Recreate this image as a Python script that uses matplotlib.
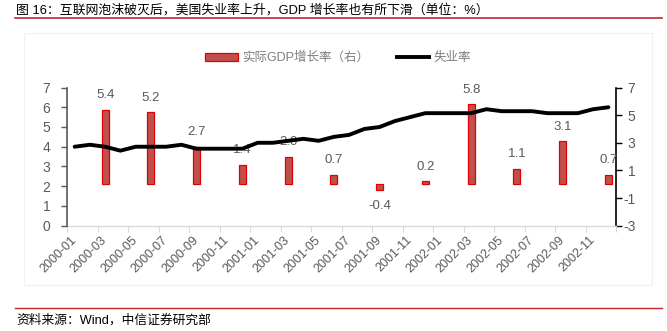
import matplotlib
matplotlib.use("Agg")
import matplotlib.pyplot as plt
import numpy as np
from matplotlib.patches import Rectangle, Patch
from matplotlib.lines import Line2D

plt.rcParams['font.family'] = ['Liberation Sans', 'Noto Sans CJK SC', 'DejaVu Sans']
plt.rcParams['axes.unicode_minus'] = False

# 月份（2000-01 ~ 2002-12）
months = [f'{y}-{m:02d}' for y in (2000, 2001, 2002) for m in range(1, 13)]

# 美国失业率（%，左轴）
unemployment = [4.0, 4.1, 4.0, 3.8, 4.0, 4.0, 4.0, 4.1, 3.9, 3.9, 3.9, 3.9,
                4.2, 4.2, 4.3, 4.4, 4.3, 4.5, 4.6, 4.9, 5.0, 5.3, 5.5, 5.7,
                5.7, 5.7, 5.7, 5.9, 5.8, 5.8, 5.8, 5.7, 5.7, 5.7, 5.9, 6.0]

# 实际GDP增长率（%，右轴，季度）
gdp_months = ['2000-03', '2000-06', '2000-09', '2000-12',
              '2001-03', '2001-06', '2001-09', '2001-12',
              '2002-03', '2002-06', '2002-09', '2002-12']
gdp_growth = [5.4, 5.2, 2.7, 1.4, 2.0, 0.7, -0.4, 0.2, 5.8, 1.1, 3.1, 0.7]

tick_labels = months[::2]

W, H = 667, 331
fig = plt.figure(figsize=(W / 100, H / 100), dpi=100)

# 浅灰色图框
fig.patches.append(Rectangle((24 / W, 1 - 285 / H), (652 - 24) / W, (285 - 33) / H,
                             transform=fig.transFigure, fill=False,
                             edgecolor='#f0f0f0', linewidth=0.8))

# 标题与来源
fig.text(16 / W, 1 - 10 / H, '图 16：互联网泡沫破灭后，美国失业率上升，GDP 增长率也有所下滑（单位：%）',
         fontsize=9.3, va='center', ha='left', color='#000000')
fig.add_artist(Line2D([15 / W, 662 / W], [1 - 17.5 / H] * 2, transform=fig.transFigure,
                      color='#c0282d', linewidth=1.2))
fig.add_artist(Line2D([15 / W, 662 / W], [1 - 307.5 / H] * 2, transform=fig.transFigure,
                      color='#c0282d', linewidth=1.0))
fig.text(16 / W, 1 - 320 / H, '资料来源：Wind，中信证券研究部',
         fontsize=9.2, va='center', ha='left', color='#000000')

left, right, top, bottom = 67, 616, 87.5, 225.7
ax = fig.add_axes([left / W, 1 - bottom / H, (right - left) / W, (bottom - top) / H])
ax2 = ax.twinx()

x = np.arange(len(months))
gx = [months.index(m) for m in gdp_months]

# 柱状图（右轴）
ax.bar(gx, gdp_growth, width=0.46, color='#c0504d', edgecolor='#e00000', linewidth=0.9, zorder=2)
for xi, v in zip(gx, gdp_growth):
    off = 10.5 if v >= 0 else -11.5
    ax.annotate(f'{v:.1f}', (xi, v), xytext=(0, off), textcoords='offset points',
                ha='center', va='center', fontsize=9.5, color='#595959', zorder=3)

# 折线（左轴）
ax2.plot(x, unemployment, color='black', linewidth=2.8, solid_capstyle='round', zorder=4)

ax.set_xlim(-0.5, len(months) - 0.5)
ax.set_ylim(-3, 7)
ax.set_yticks(np.arange(-3, 8, 2))
ax2.set_ylim(0, 7)
ax2.set_yticks(np.arange(0, 8, 1))

ax.yaxis.tick_right()
ax2.yaxis.tick_left()

ax.set_xticks(x[::2])
ax.set_xticklabels(tick_labels, rotation=45, ha='right', va='center', rotation_mode='anchor',
                   fontsize=9, color='#595959')
ax.tick_params(axis='x', which='major', length=0, pad=9)
ax.set_xticks(np.arange(-0.5, len(months), 2), minor=True)
ax.tick_params(axis='x', which='minor', length=4, width=0.8, color='#d9d9d9')

ax.tick_params(axis='y', direction='out', length=4, width=1, color='black',
               labelsize=10, labelcolor='#595959', pad=10)
for lab in ax.get_yticklabels():
    lab.set_ha('right')
ax2.tick_params(axis='y', direction='out', length=4, width=1, color='#595959',
                labelsize=10, labelcolor='#595959', pad=8)

for s in ('top', 'left'):
    ax.spines[s].set_visible(False)
ax.spines['right'].set_color('black')
ax.spines['right'].set_linewidth(1.2)
ax.spines['bottom'].set_color('#d9d9d9')
ax.spines['bottom'].set_linewidth(1.0)
for s in ('top', 'right', 'bottom'):
    ax2.spines[s].set_visible(False)
ax2.spines['left'].set_color('#595959')
ax2.spines['left'].set_linewidth(1.2)

handles = [Patch(facecolor='#c0504d', edgecolor='#e00000', linewidth=0.9),
           Line2D([0], [0], color='black', linewidth=2.8)]
fig.legend(handles, ['实际GDP增长率（右）', '失业率'], loc='center',
           bbox_to_anchor=(338 / W, 1 - 58 / H), ncol=2, frameon=False,
           fontsize=9, labelcolor='#7f7f7f', handlelength=2.6, handleheight=0.65,
           handletextpad=0.35, columnspacing=2.2, borderpad=0)

fig.savefig('out.png', dpi=100)
